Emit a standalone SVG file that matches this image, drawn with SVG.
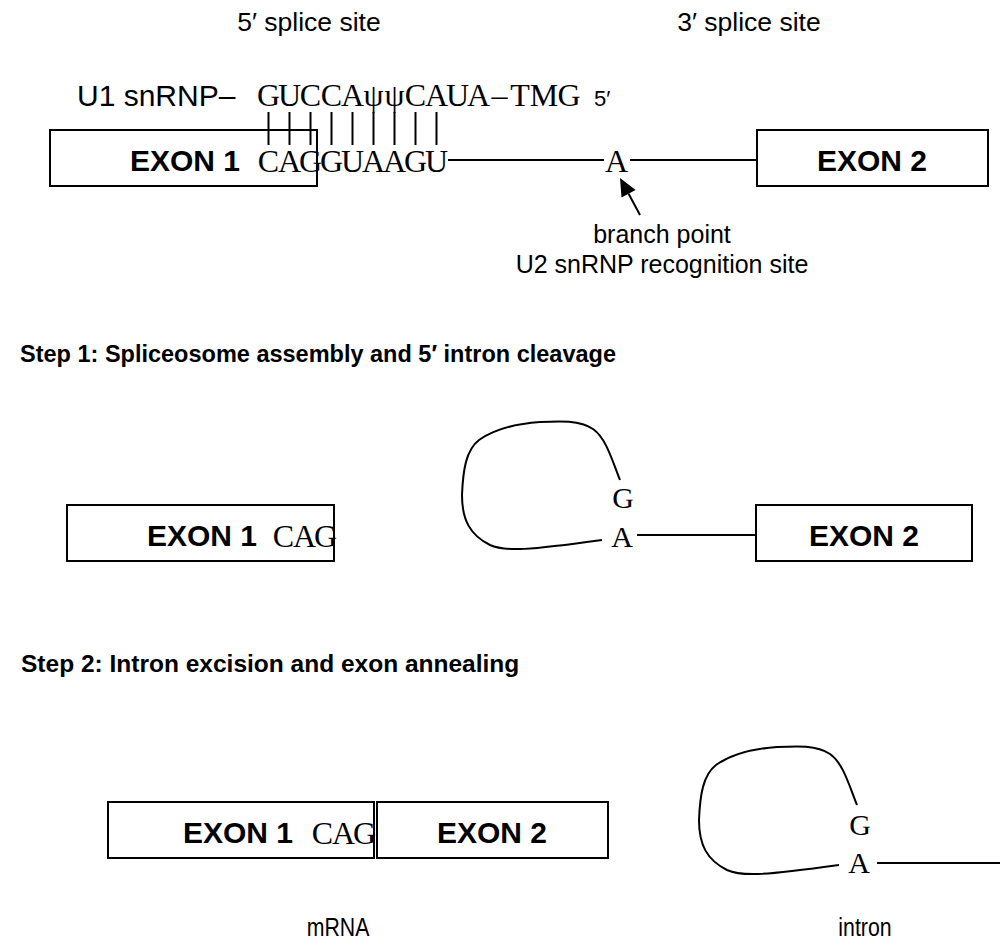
<svg xmlns="http://www.w3.org/2000/svg" width="1006" height="946" viewBox="0 0 1006 946">
<defs>
<style>
.lbl{font-family:"Liberation Sans",Arial,sans-serif;font-size:25px;fill:#000}
.bold{font-family:"Liberation Sans",Arial,sans-serif;font-weight:bold;font-size:30px;fill:#000}
.step{font-family:"Liberation Sans",Arial,sans-serif;font-weight:bold;font-size:23.5px;fill:#000}
.seq{font-family:"Liberation Serif","Times New Roman",serif;font-size:32px;fill:#000;text-anchor:middle}
.seq2{font-family:"Liberation Serif","Times New Roman",serif;font-size:30px;fill:#000;text-anchor:middle}
.box{fill:#fff;stroke:#000;stroke-width:2}
.ln{fill:none;stroke:#000;stroke-width:2}
</style>
</defs>
<rect width="1006" height="946" fill="#fff"/>

<text class="lbl" x="309" y="31" text-anchor="middle" style="font-size:26.5px">5′ splice site</text>
<text class="lbl" x="749" y="31" text-anchor="middle" style="font-size:26.5px">3′ splice site</text>

<g id="u1">
<text class="lbl" x="77" y="106" style="font-size:30px">U1 snRNP–</text>
<text class="seq" x="268.5 289.5 310.5 331.5 352.5 373.5 394.5 415.5 436.5 457.5 478.5 499.5 520 544 569" y="106">GUCCAψψCAUA–TMG</text>
<text class="lbl" x="594" y="106" style="font-size:22px">5′</text>
</g>

<g id="exon1-pre">
<rect class="box" x="50" y="130" width="267" height="56"/>
<text class="bold" x="130" y="171">EXON 1</text>
<text class="seq" x="268.5 289.5 310.5 331.5 352.5 373.5 394.5 415.5 436.5" y="172">CAGGUAAGU</text>
</g>
<g id="exon2-pre">
<rect class="box" x="757" y="130" width="231" height="56"/>
<text class="bold" x="872" y="171" text-anchor="middle">EXON 2</text>
</g>
<g id="branch">
<text class="seq" x="616.5" y="172">A</text>
<text class="lbl" x="662" y="243" text-anchor="middle">branch point</text>
<text class="lbl" x="662" y="273" text-anchor="middle">U2 snRNP recognition site</text>
</g>

<g id="connectors">
<path class="ln" d="M268.5,112V145M289.5,112V145M310.5,112V145M331.5,112V145M352.5,112V145M373.5,112V145M394.5,112V145M415.5,112V145M436.5,112V145"/>
<path class="ln" d="M448,160H604M630,160H757"/>
<path class="ln" d="M640,215L628.6,193.8"/>
<polygon points="620,178 635.6,190 621.5,197.6" fill="#000"/>
<path class="ln" d="M637,535H756"/>
<path class="ln" d="M620,480C612,460 606,438 593,429C580,420 560,421 540,422C512,424 492,431 479,440C466,450 463,470 462,495C462,520 470,535 490,545C505,552 530,550 602,540"/>
<path class="ln" d="M857,805C849,785 843,763 830,754C817,745 797,746 777,747C749,749 729,756 716,765C703,775 700,795 699,820C699,845 707,860 727,870C742,877 767,875 839,865"/>
<path class="ln" d="M877,863H1000"/>
</g>

<text class="step" x="20" y="362">Step 1: Spliceosome assembly and 5′ intron cleavage</text>

<g id="exon1-s1">
<rect class="box" x="67" y="505" width="267" height="56"/>
<text class="bold" x="147" y="546">EXON 1</text>
<text class="seq" x="283.5 304.5 325.5" y="547">CAG</text>
</g>
<g id="lariat-s1">
<text class="seq2" x="623" y="508">G</text>
<text class="seq2" x="622" y="547">A</text>
</g>
<g id="exon2-s1">
<rect class="box" x="756" y="505" width="216" height="56"/>
<text class="bold" x="864" y="546" text-anchor="middle">EXON 2</text>
</g>

<text class="step" x="21" y="672" style="font-size:24.5px">Step 2: Intron excision and exon annealing</text>

<g id="mrna">
<rect class="box" x="108" y="802" width="266" height="56"/>
<rect class="box" x="377" y="802" width="231" height="56"/>
<text class="bold" x="183" y="843">EXON 1</text>
<text class="seq" x="322.5 343.5 364.5" y="844">CAG</text>
<text class="bold" x="492" y="843" text-anchor="middle">EXON 2</text>
<text class="lbl" transform="translate(338,936) scale(0.82,1)" text-anchor="middle" style="font-size:26px">mRNA</text>
</g>
<g id="intron">
<text class="seq2" x="860" y="835">G</text>
<text class="seq2" x="859" y="873">A</text>
<text class="lbl" transform="translate(865,936) scale(0.82,1)" text-anchor="middle" style="font-size:26px">intron</text>
</g>
</svg>
